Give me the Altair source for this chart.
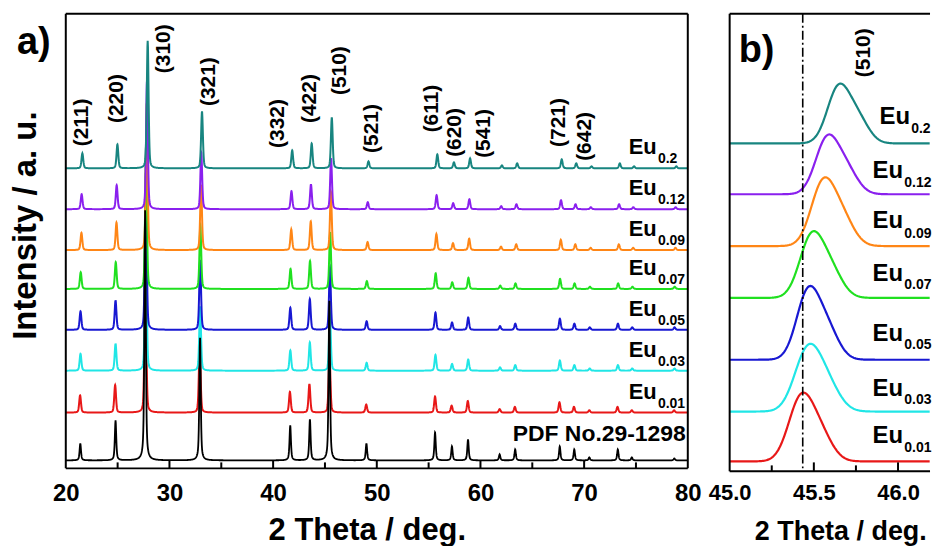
import numpy as np
import pandas as pd
import altair as alt

alt.data_transformers.disable_max_rows()
FONT = "Liberation Sans"

# ---------------- series info ----------------
series_names = ["Eu0.01", "Eu0.03", "Eu0.05", "Eu0.07", "Eu0.09", "Eu0.12", "Eu0.2"]
sub_text = ["0.01", "0.03", "0.05", "0.07", "0.09", "0.12", "0.2"]
series_colors = ["#e81818", "#20e6e6", "#1818d2", "#20e020", "#ff8616", "#8a20ee", "#188580"]

# ---------------- panel a: full patterns ----------------
a_offset = [56, 98, 139, 180, 219, 260, 301]       # stacking offsets (a.u.)
pdf_offset = 8
a_scale = [1.15, 1.13, 1.23, 1.12, 1.15, 1.0, 1.0]  # relative intensity per sample
a_shift = [0.0, 0.04, 0.04, 0.06, 0.13, 0.15, 0.22]  # peak shift per sample (deg)

peak_pos = [21.38, 24.76, 27.68, 32.92, 41.62, 43.50, 45.44, 48.98, 55.62, 57.22,
            58.78, 61.85, 63.32, 67.62, 69.02, 70.50, 73.22, 74.60, 78.68]
peak_h = [15, 24, 128, 57, 18, 25, 51, 7, 14, 6, 10, 3, 5, 9, 5, 2, 5, 2, 2]
pdf_pos = [21.40, 24.80, 27.65, 32.95, 41.65, 43.55, 45.42, 49.00, 55.62, 57.25,
           58.80, 61.85, 63.35, 67.65, 69.05, 70.50, 73.25, 74.60, 78.70]
pdf_h = [17, 40, 251, 123, 35, 41, 160, 17, 28, 14, 21, 6, 11, 14, 11, 3, 11, 3, 2]

hkl_text = ["(211)", "(220)", "(310)", "(321)", "(332)", "(422)", "(510)", "(521)",
            "(611)", "(620)", "(541)", "(721)", "(642)"]
hkl_x = [21.55, 24.95, 29.45, 33.8, 40.5, 43.6, 46.5, 49.55, 55.35, 57.55, 60.3, 67.6, 70.1]
hkl_y = [347, 371, 421, 388, 346, 371, 399, 341, 361, 337, 336, 347, 333]

a_eu_x, a_sub_x = 74.30, 77.12
a_eu_y = [70, 112, 153, 194, 233, 274, 315]
a_sub_y = [61, 103, 144, 185, 224, 265, 306]
a_major = [30, 40, 50, 60, 70]
a_minor = [25, 35, 45, 55, 65, 75]
a_ticks = [20, 30, 40, 50, 60, 70, 80]

# ---------------- panel b: (510) zoom ----------------
b_apex = [45.44, 45.48, 45.48, 45.50, 45.57, 45.59, 45.66]
b_height = [69, 68, 74, 67, 69, 60, 60]
b_offset = [10, 60, 112, 174, 226, 278, 329]
b_fwhm = [0.17, 0.18, 0.16, 0.165, 0.165, 0.16, 0.155]
b_eu_x = [45.848, 45.848, 45.848, 45.848, 45.848, 45.848, 45.89]
b_sub_x = [46.037, 46.037, 46.037, 46.037, 46.037, 46.037, 46.078]
b_eu_y = [28, 76, 131, 191, 244, 294, 348]
b_sub_y = [19, 68, 123, 183, 234, 285, 339]
b_ref_line = 45.434
b_major = [45.5, 46.0]
b_minor = [45.25, 45.75]
b_ticks = [45.0, 45.5, 46.0]


def pv(x, c, w, eta):
    d = (x - c) / w
    return eta / (1 + 4 * d * d) + (1 - eta) * np.exp(-4 * np.log(2) * d * d)


def gauss(x, c, w):
    d = (x - c) / w
    return np.exp(-4 * np.log(2) * d * d)


# build panel a curves from the peak tables
xa = np.arange(20.0, 80.0 + 1e-9, 0.025)
extra = [p + s for p in peak_pos for s in a_shift] + pdf_pos
xa = np.unique(np.round(np.concatenate([xa, np.array(extra)]), 4))

AW, AH = 624, 456
BW, BH = 201, 459

x_a = alt.X("x:Q", scale=alt.Scale(domain=[20, 80], nice=False, zero=False),
            axis=alt.Axis(values=a_ticks, format="d", ticks=False, tickSize=0, domain=False,
                          grid=False, labelFont=FONT, labelFontSize=24, labelFontWeight="bold",
                          labelColor="black", labelPadding=13, labelFlush=False,
                          labelOverlap=False,
                          title="2 Theta / deg.", titleFont=FONT, titleFontSize=31,
                          titleFontWeight="bold", titleColor="black", titleX=302,
                          titleY=71, titleAlign="center", titleBaseline="alphabetic"))
y_a = alt.Y("y:Q", scale=alt.Scale(domain=[0, AH], nice=False, zero=False),
            axis=alt.Axis(title="Intensity / a. u.", labels=False, ticks=False, domain=False,
                          grid=False, titleFont=FONT, titleFontSize=33, titleFontWeight="bold",
                          titleColor="black", titleAngle=270, titleX=-40, titleY=212,
                          titleAlign="center", titleBaseline="middle"))

layers_a = []
for i, name in enumerate(series_names):
    y = np.full(xa.shape, float(a_offset[i]))
    for p, h in zip(peak_pos, peak_h):
        y += a_scale[i] * h * pv(xa, p + a_shift[i], 0.2, 0.35)
    df = pd.DataFrame({"x": xa, "y": np.round(y, 2)})
    layers_a.append(alt.Chart(df).mark_line(color=series_colors[i], strokeWidth=2)
                    .encode(x=x_a, y=y_a))

ypdf = np.full(xa.shape, float(pdf_offset))
for p, h in zip(pdf_pos, pdf_h):
    ypdf += h * pv(xa, p, 0.16, 0.6)
df_pdf = pd.DataFrame({"x": xa, "y": np.round(ypdf, 2)})
layers_a.append(alt.Chart(df_pdf).mark_line(color="black", strokeWidth=1.8)
                .encode(x=x_a, y=y_a))

# hkl labels
df_hkl = pd.DataFrame({"x": hkl_x, "y": hkl_y, "t": hkl_text})
layers_a.append(alt.Chart(df_hkl).mark_text(angle=270, font=FONT, fontSize=21, fontWeight="bold",
                                             align="center", baseline="middle", color="black")
                .encode(x=x_a, y=y_a, text="t:N"))

# Eu labels in panel a
df_eu_a = pd.DataFrame({"x": [a_eu_x] * 7, "y": a_eu_y, "t": ["Eu"] * 7})
df_sub_a = pd.DataFrame({"x": [a_sub_x] * 7, "y": a_sub_y, "t": sub_text})
layers_a.append(alt.Chart(df_eu_a).mark_text(font=FONT, fontSize=22, fontWeight="bold",
                                              align="left", baseline="alphabetic", color="black")
                .encode(x=x_a, y=y_a, text="t:N"))
layers_a.append(alt.Chart(df_sub_a).mark_text(font=FONT, fontSize=14, fontWeight="bold",
                                               align="left", baseline="alphabetic", color="black")
                .encode(x=x_a, y=y_a, text="t:N"))
df_pdf_lab = pd.DataFrame({"x": [79.81], "y": [27], "t": ["PDF No.29-1298"]})
layers_a.append(alt.Chart(df_pdf_lab).mark_text(font=FONT, fontSize=23, fontWeight="bold",
                                                 align="right", baseline="alphabetic",
                                                 color="black")
                .encode(x=x_a, y=y_a, text="t:N"))

# inward ticks
df_maj_a = pd.DataFrame({"x": a_major})
df_min_a = pd.DataFrame({"x": a_minor})
layers_a.append(alt.Chart(df_maj_a).mark_rule(color="black", strokeWidth=2)
                .encode(x=x_a, y=alt.value(AH), y2=alt.value(AH - 8)))
layers_a.append(alt.Chart(df_min_a).mark_rule(color="black", strokeWidth=2)
                .encode(x=x_a, y=alt.value(AH), y2=alt.value(AH - 6)))

one = pd.DataFrame({"k": [0]})
frame_kw = dict(color="black", strokeWidth=2)
layers_a += [
    alt.Chart(one).mark_rule(**frame_kw).encode(x=alt.value(0), y=alt.value(0), y2=alt.value(AH)),
    alt.Chart(one).mark_rule(**frame_kw).encode(x=alt.value(AW), y=alt.value(0), y2=alt.value(AH)),
    alt.Chart(one).mark_rule(**frame_kw).encode(x=alt.value(0), x2=alt.value(AW), y=alt.value(0)),
    alt.Chart(one).mark_rule(**frame_kw).encode(x=alt.value(0), x2=alt.value(AW), y=alt.value(AH)),
    alt.Chart(one).mark_text(text="a)", font=FONT, fontSize=38, fontWeight="bold", align="left",
                             baseline="alphabetic", color="black")
    .encode(x=alt.value(-49), y=alt.value(40)),
]

chart_a = alt.layer(*layers_a).properties(width=AW, height=AH)

# ---------------- panel b ----------------
xb = np.round(np.arange(45.0, 46.19 + 1e-9, 0.004), 4)

x_b = alt.X("x:Q", scale=alt.Scale(domain=[45.0, 46.19], nice=False, zero=False),
            axis=alt.Axis(values=b_ticks, format=".1f", ticks=False, tickSize=0, domain=False,
                          grid=False, labelFont=FONT, labelFontSize=22, labelFontWeight="bold",
                          labelColor="black", labelPadding=11, labelFlush=False,
                          labelOverlap=False,
                          title="2 Theta / deg.", titleFont=FONT, titleFontSize=27,
                          titleFontWeight="bold", titleColor="black", titleX=111,
                          titleY=68, titleAlign="center", titleBaseline="alphabetic"))
y_b = alt.Y("y:Q", scale=alt.Scale(domain=[0, BH], nice=False, zero=False), axis=None)

layers_b = []
for i, name in enumerate(series_names):
    w = b_fwhm[i]
    prof = gauss(xb, b_apex[i], w) + 0.45 * gauss(xb, b_apex[i] + 0.115, w)
    xm = xb[np.argmax(prof)]
    c = b_apex[i] + (b_apex[i] - xm)
    prof = gauss(xb, c, w) + 0.45 * gauss(xb, c + 0.115, w)
    prof = prof / prof.max()
    y = b_offset[i] + b_height[i] * prof
    df = pd.DataFrame({"x": xb, "y": np.round(y, 2)})
    layers_b.append(alt.Chart(df).mark_line(color=series_colors[i], strokeWidth=2.2)
                    .encode(x=x_b, y=y_b))

df_ref = pd.DataFrame({"x": [b_ref_line]})
layers_b.append(alt.Chart(df_ref).mark_rule(color="black", strokeWidth=1.6,
                                             strokeDash=[9, 3, 2, 3]).encode(x=x_b))

df_eu_b = pd.DataFrame({"x": b_eu_x, "y": b_eu_y, "t": ["Eu"] * 7})
df_sub_b = pd.DataFrame({"x": b_sub_x, "y": b_sub_y, "t": sub_text})
layers_b.append(alt.Chart(df_eu_b).mark_text(font=FONT, fontSize=24, fontWeight="bold",
                                              align="left", baseline="alphabetic", color="black")
                .encode(x=x_b, y=y_b, text="t:N"))
layers_b.append(alt.Chart(df_sub_b).mark_text(font=FONT, fontSize=14, fontWeight="bold",
                                               align="left", baseline="alphabetic", color="black")
                .encode(x=x_b, y=y_b, text="t:N"))
df_hkl_b = pd.DataFrame({"x": [45.80], "y": [420], "t": ["(510)"]})
layers_b.append(alt.Chart(df_hkl_b).mark_text(angle=270, font=FONT, fontSize=21,
                                               fontWeight="bold", align="center",
                                               baseline="middle", color="black")
                .encode(x=x_b, y=y_b, text="t:N"))

df_maj_b = pd.DataFrame({"x": b_major})
df_min_b = pd.DataFrame({"x": b_minor})
layers_b.append(alt.Chart(df_maj_b).mark_rule(color="black", strokeWidth=2)
                .encode(x=x_b, y=alt.value(BH), y2=alt.value(BH - 9)))
layers_b.append(alt.Chart(df_min_b).mark_rule(color="black", strokeWidth=2)
                .encode(x=x_b, y=alt.value(BH), y2=alt.value(BH - 6)))

layers_b += [
    alt.Chart(one).mark_rule(**frame_kw).encode(x=alt.value(0), y=alt.value(0), y2=alt.value(BH)),
    alt.Chart(one).mark_rule(**frame_kw).encode(x=alt.value(0), x2=alt.value(BW), y=alt.value(0)),
    alt.Chart(one).mark_rule(**frame_kw).encode(x=alt.value(0), x2=alt.value(BW), y=alt.value(BH)),
    alt.Chart(one).mark_text(text="b)", font=FONT, fontSize=38, fontWeight="bold", align="left",
                             baseline="alphabetic", color="black")
    .encode(x=alt.value(9), y=alt.value(48)),
]

chart_b = alt.layer(*layers_b).properties(width=BW, height=BH)

chart = (alt.hconcat(chart_a, chart_b, spacing=42, bounds="flush")
         .properties(padding={"left": 10, "top": 12, "right": 0, "bottom": 0},
                     background="white")
         .configure_view(strokeOpacity=0))

chart.save("out.html", embed_options={"renderer": "svg", "actions": False})
